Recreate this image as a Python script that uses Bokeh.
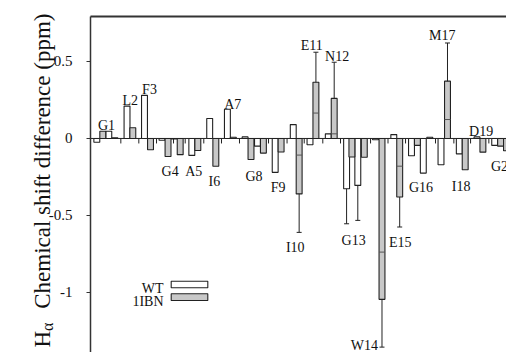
import math
from bokeh.plotting import figure
from bokeh.models import Range1d, Label, FixedTicker
from bokeh.core.properties import value
from bokeh.embed import file_html
from bokeh.resources import INLINE

# ---------------- data ----------------
# bar positions along the residue axis (in bar-width units) and Hα shift differences (ppm)
wt_pos = [1.07, 3.10, 6.19, 9.15, 12.12, 14.19, 17.17, 20.2, 23.2, 26.2, 28.3, 31.3, 34.36,
          37.2, 40.3, 43.4, 45.3, 48.3, 51.4, 54.4, 56.4, 59.4, 62.5, 65.5, 68.5]
wt_val = [-0.025, 0.047, 0.21, 0.28, -0.012, -0.004, -0.11, 0.13, 0.19, 0.01, -0.05, -0.22, 0.09,
          -0.041, 0.03, -0.327, -0.305, -0.008, 0.025, -0.112, -0.225, -0.171, -0.10, 0.01, -0.045]

ibn_pos = [2.08, 4.12, 7.17, 10.17, 13.14, 15.2, 18.19, 21.24, 24.2, 27.2, 29.3, 32.3, 35.36,
           38.2, 41.3, 44.3, 46.4, 49.4, 52.4, 55.4, 57.5, 60.5, 63.5, 66.5, 69.5, 70.5]
ibn_val = [0.047, 0.005, 0.07, -0.073, -0.117, -0.105, -0.078, -0.18, 0.008, -0.137, -0.095, -0.088, -0.36,
           0.365, 0.26, -0.12, -0.122, -1.045, -0.38, -0.045, 0.008, 0.372, -0.203, -0.089, -0.05, -0.08]

# inner division lines inside some 1IBN bars
inner_pos = [35.36, 38.2, 41.3, 49.4, 52.4, 60.5]
inner_val = [-0.108, 0.165, 0.03, -0.738, -0.18, 0.123]

# error bars: position, start (bar end) and end value
err_pos = [43.4, 45.3, 35.36, 38.2, 41.3, 49.4, 52.4, 60.5]
err_from = [-0.327, -0.305, -0.36, 0.365, 0.26, -1.045, -0.38, 0.372]
err_to = [-0.554, -0.532, -0.61, 0.56, 0.495, -1.355, -0.575, 0.62]

# small marks on the zero line
zero_ticks = [5.14, 8.19, 11.19, 14.07, 16.05, 19.2, 22.2, 25.25, 30.17, 33.31, 36.22, 39.37,
              42.37, 47.46, 50.42, 53.39, 58.47, 61.58, 64.41, 67.51]

# residue labels
res_text = ["G1", "L2", "F3", "G4", "A5", "I6", "A7", "G8", "F9", "I10", "E11", "N12", "G13",
            "W14", "E15", "G16", "M17", "I18", "D19", "G20"]
res_x = [2.71, 6.73, 10.0, 13.5, 17.5, 21.0, 24.1, 27.7, 31.8, 34.7, 37.5, 41.8, 44.6,
         46.4, 52.5, 56.0, 59.6, 62.8, 66.2, 69.9]
res_y = [0.084, 0.247, 0.316, -0.212, -0.212, -0.277, 0.221, -0.247, -0.316, -0.706, 0.604, 0.534, -0.662,
         -1.344, -0.673, -0.32, 0.669, -0.312, 0.047, -0.18]

y_ticks = [0.5, 0, -0.5, -1]
y_tick_labels = ["0.5", "0", "-0.5", "-1"]
legend_names = ["WT", "1IBN"]

# ---------------- styling ----------------
SERIF = "Liberation Serif"
GRAY = "#c8c8c8"
EDGE = "#222222"
W, H = 506, 352
AX_PX, TOP_PX = 90, 16          # pixel position of the value axis and of the top line
X_END = 70.5                    # data value at the right edge
Y_BOT, Y_TOP = -1.39, 0.792     # data values at the bottom edge and at the top line
px_x = X_END / (W - AX_PX)
px_y = (Y_TOP - Y_BOT) / (H - TOP_PX)
x_start = -AX_PX * px_x
y_end = Y_TOP + TOP_PX * px_y

p = figure(width=W, height=H, output_backend="svg", toolbar_location=None,
           x_range=Range1d(x_start, X_END), y_range=Range1d(Y_BOT, y_end),
           x_axis_location=None, y_axis_location="left",
           min_border_left=0, min_border_right=0, min_border_top=0, min_border_bottom=0)
p.outline_line_color = None
p.grid.visible = False
p.background_fill_color = "white"

ax = p.yaxis[0]
ax.fixed_location = 0
ax.bounds = (Y_BOT, Y_TOP)
ax.ticker = FixedTicker(ticks=y_ticks)
ax.major_label_overrides = {t: s for t, s in zip(y_ticks, y_tick_labels)}
ax.minor_tick_line_color = None
ax.major_tick_out = 4
ax.major_tick_in = 0
ax.major_label_standoff = 14
ax.major_label_text_font = SERIF
ax.major_label_text_font_size = "15px"
ax.major_label_text_color = "#111111"
ax.axis_line_color = "#333333"
ax.axis_line_width = 1.5
ax.major_tick_line_color = "#333333"
ax.major_tick_line_width = 1.2


def dx(px):
    return x_start + px * px_x


def dy(py):
    return y_end - py * px_y


# top frame line and zero line (start at the value axis)
p.segment(x0=[0, 0], y0=[Y_TOP, 0], x1=[X_END, X_END], y1=[Y_TOP, 0],
          line_color=["#333333", "#222222"], line_width=[2, 1])

# bars
p.vbar(x=wt_pos, top=wt_val, bottom=0, width=1.0, fill_color="white",
       line_color=EDGE, line_width=1.1)
p.vbar(x=ibn_pos, top=ibn_val, bottom=0, width=1.0, fill_color=GRAY,
       line_color=EDGE, line_width=1.1)
half = 0.5
p.segment(x0=[x - half for x in inner_pos], y0=inner_val,
          x1=[x + half for x in inner_pos], y1=inner_val,
          line_color="#555555", line_width=1)

# error bars
p.segment(x0=err_pos, y0=err_from, x1=err_pos, y1=err_to, line_color="#222222", line_width=1)
p.scatter(x=err_pos, y=err_to, marker="dash", size=5, line_color="#222222", line_width=1)

# zero-line tick marks
tick_len = 5 * px_y
p.segment(x0=zero_ticks, y0=[0] * len(zero_ticks), x1=zero_ticks,
          y1=[-tick_len] * len(zero_ticks), line_color="#222222", line_width=1)

# residue labels
p.text(x=res_x, y=res_y, text=res_text, text_font=value(SERIF), text_font_size="14px",
       text_align="center", text_baseline="alphabetic", text_color="#111111")

# legend (label left, box right)
leg_rows = [(280.7, 287.3, "white"), (293.3, 300.0, GRAY)]
for name, (t, b, c) in zip(legend_names, leg_rows):
    p.quad(left=dx(170.7), right=dx(207.3), top=dy(t), bottom=dy(b),
           fill_color=c, line_color=EDGE, line_width=1.1)
    p.add_layout(Label(x=dx(163), y=dy(b + 0.5), text=name, text_align="right",
                       text_baseline="alphabetic", text_font=SERIF,
                       text_font_size="14px", text_color="#111111"))

# y-axis title: H with subscript alpha, rotated
FS = 23
BASE = 42
p.add_layout(Label(x=dx(BASE), y=dy(347), text="H", angle=math.pi / 2,
                   text_align="left", text_baseline="alphabetic",
                   text_font=SERIF, text_font_size=f"{FS}px", text_color="#111111"))
p.add_layout(Label(x=dx(BASE + 5), y=dy(347 - 0.722 * FS), text="α", angle=math.pi / 2,
                   text_align="left", text_baseline="alphabetic",
                   text_font=SERIF, text_font_size="16px", text_color="#111111"))
p.add_layout(Label(x=dx(BASE), y=dy(13), text="Chemical shift difference (ppm)", angle=math.pi / 2,
                   text_align="right", text_baseline="alphabetic",
                   text_font=SERIF, text_font_size=f"{FS}px", text_color="#111111"))

open("out.html", "w").write(file_html(p, INLINE))
